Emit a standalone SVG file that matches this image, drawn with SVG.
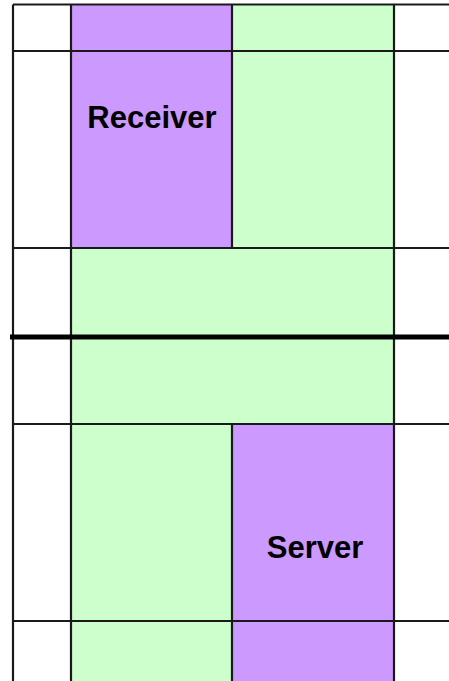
<svg xmlns="http://www.w3.org/2000/svg" width="449" height="681" viewBox="0 0 449 681">
<style>
.p{fill:#cc99ff}
.g{fill:#ccffcc}
.ln{stroke:#1a1a1a;stroke-width:2.2;fill:none}
.thick{stroke:#000;stroke-width:5}
.t{font-family:"Liberation Sans",Arial,sans-serif;font-weight:bold;font-size:31px;fill:#000;text-anchor:middle}
</style>
<rect x="0" y="0" width="449" height="681" fill="#fff"/>
<g id="receiver">
<rect class="p" x="71" y="4" width="161" height="244"/>
<text class="t" x="152" y="128">Receiver</text>
</g>
<g id="green-top">
<rect class="g" x="232" y="4" width="162" height="244"/>
</g>
<g id="green-middle">
<rect class="g" x="71" y="248" width="323" height="176"/>
</g>
<g id="green-bottom">
<rect class="g" x="71" y="424" width="161" height="257"/>
</g>
<g id="server">
<rect class="p" x="232" y="424" width="162" height="257"/>
<text class="t" x="315" y="558">Server</text>
</g>
<g id="connectors">
<path class="ln" d="M13 4.5H449M13 51H449M13 248H449M13 424H449M13 621H449"/>
<path class="ln" d="M13 4.5V681M71 4.5V681M394 4.5V681M232 4.5V248M232 424V681"/>
<path class="thick" d="M10 337H449"/>
</g>
</svg>
